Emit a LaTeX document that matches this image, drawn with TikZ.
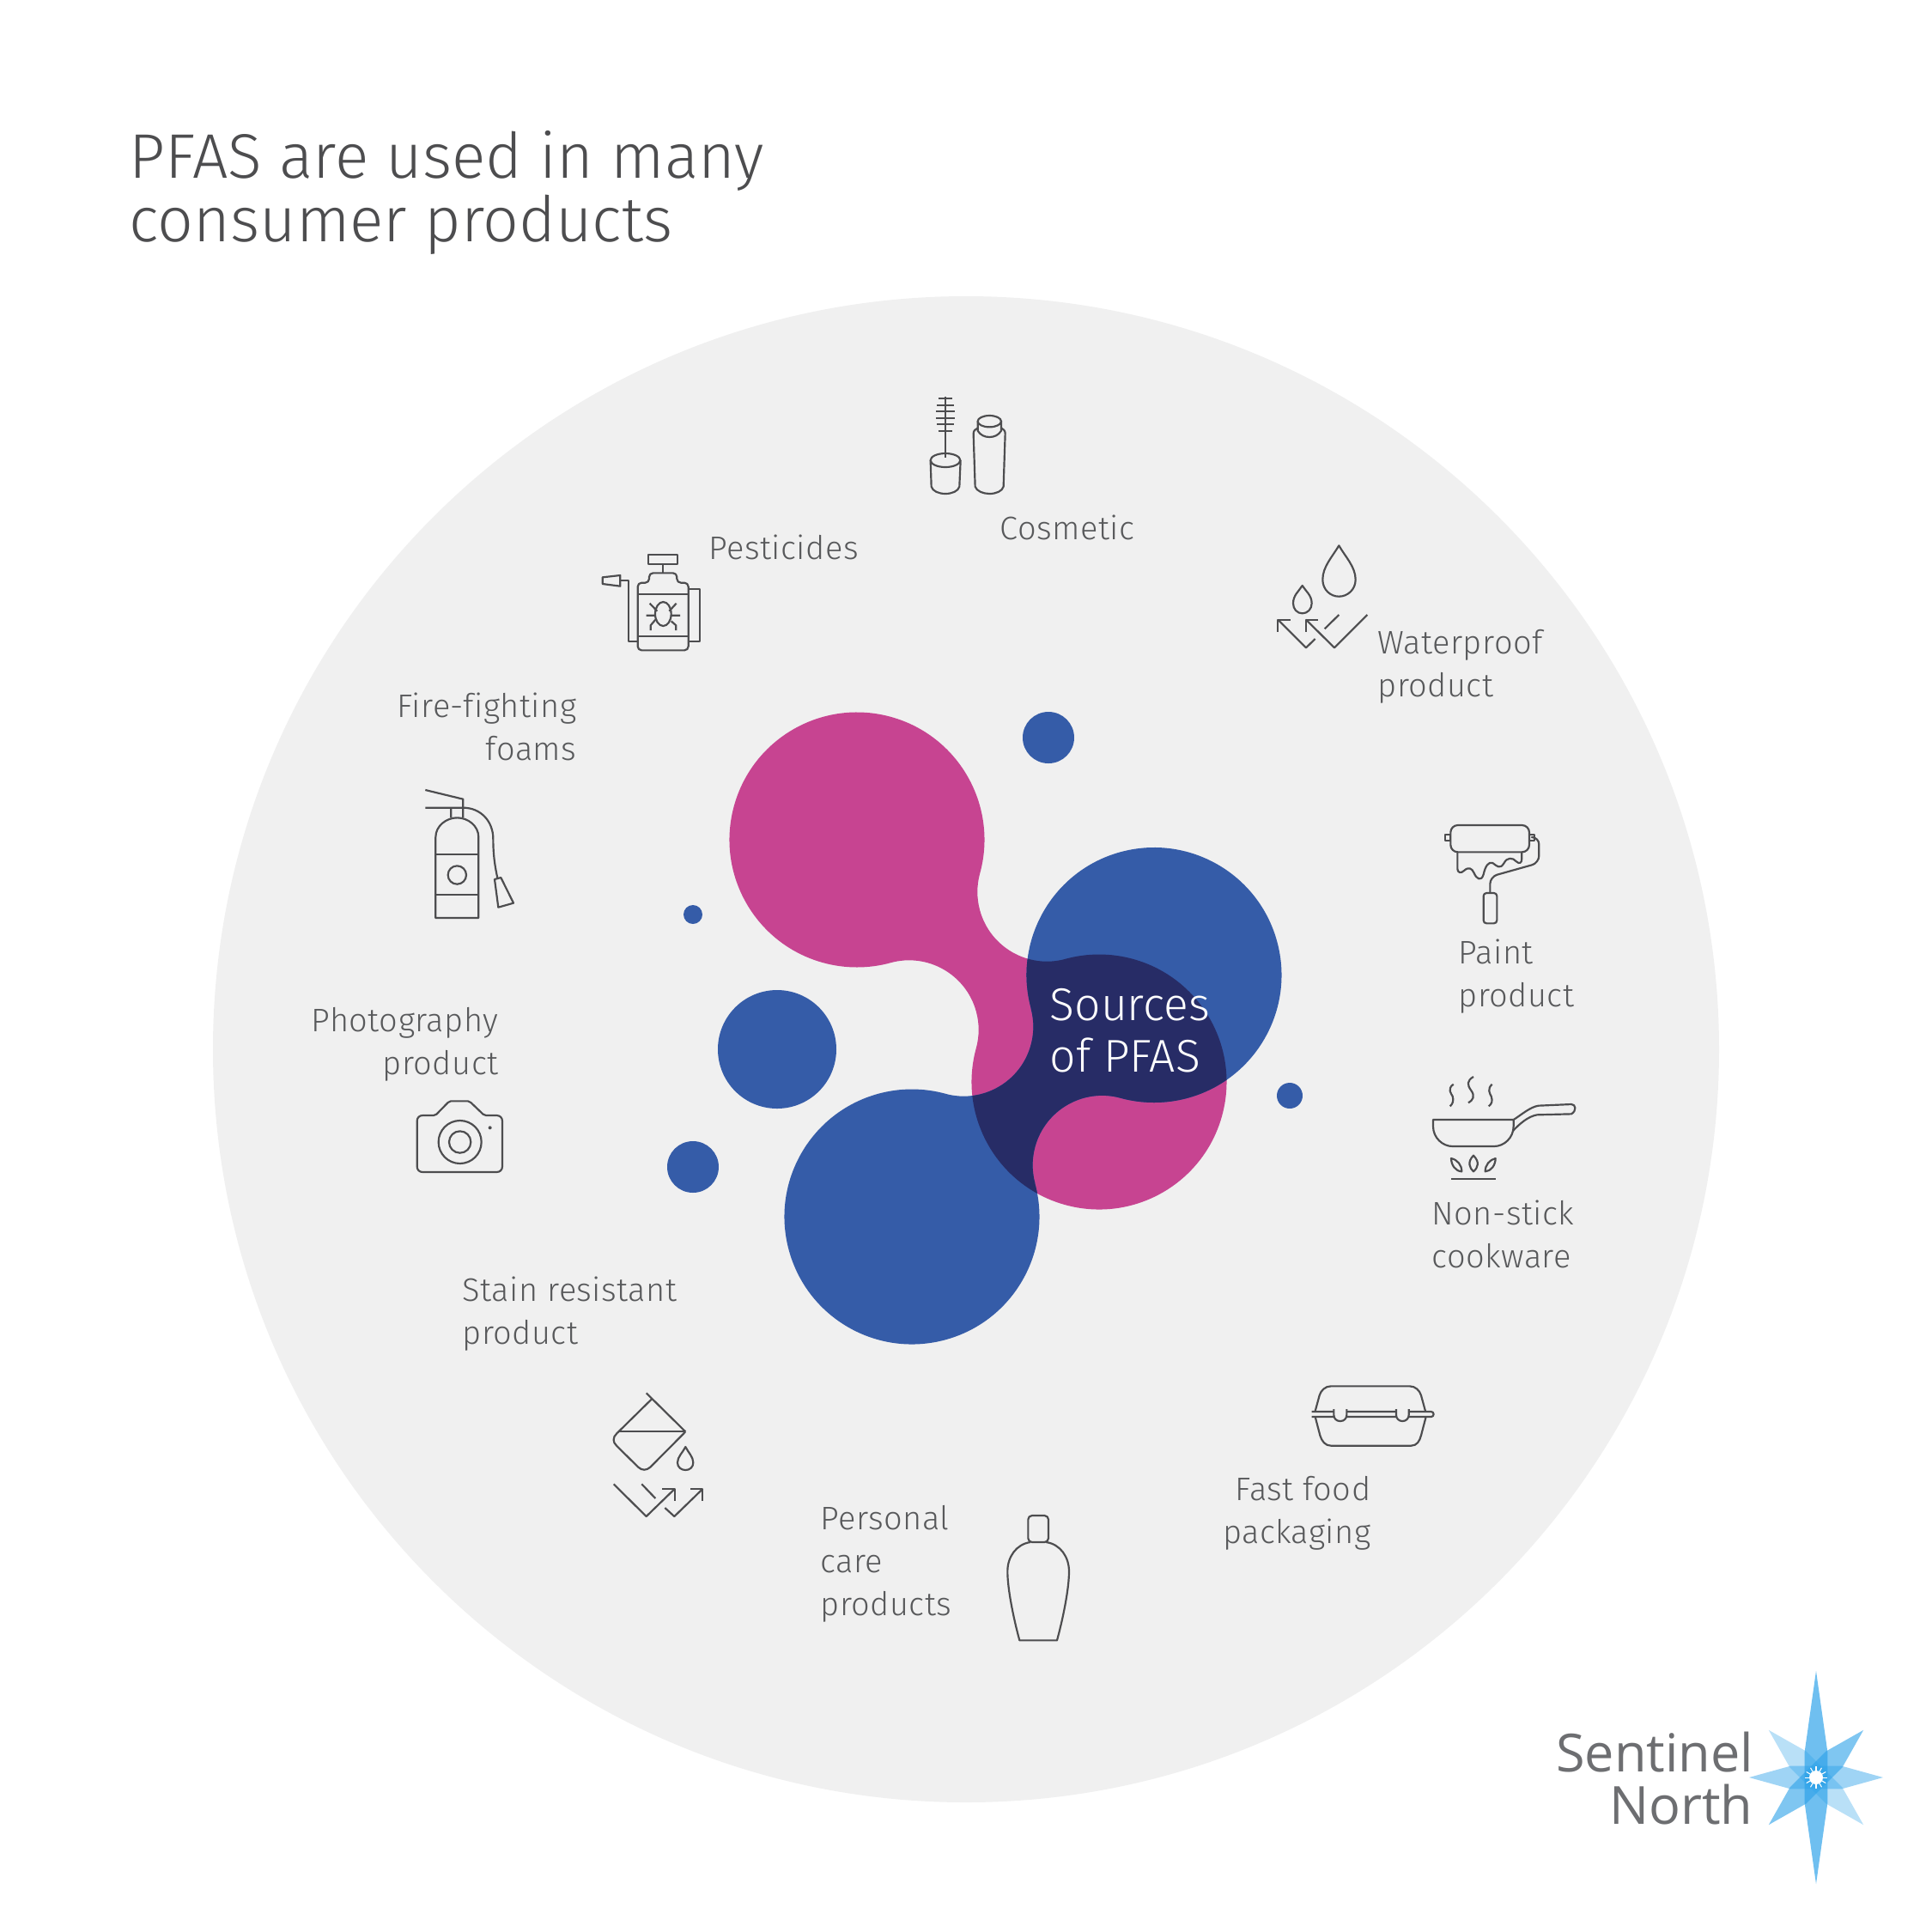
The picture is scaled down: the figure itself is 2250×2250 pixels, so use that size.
\documentclass[tikz,border=0pt]{standalone}
\usepackage{fontspec}
\usetikzlibrary{calc}
\setmainfont{Fira Sans}
\newfontfamily\lightf{Fira Sans Light}
\newfontfamily\labf[LetterSpace=1.2,Ligatures=NoCommon]{Fira Sans Light}
\newfontfamily\logof{Open Sans}
\definecolor{pinkc}{HTML}{C74491}
\definecolor{bluec}{HTML}{355CA8}
\definecolor{darkc}{HTML}{272C66}
\definecolor{discc}{HTML}{F0F0F0}
\definecolor{inkc}{HTML}{4D4D4F}
\definecolor{labc}{HTML}{58595B}
\definecolor{logoc}{HTML}{6D6E71}
\definecolor{starc}{HTML}{2BA1E9}
\newcommand\labL[1]{\begin{tabular}[t]{@{}l@{}}#1\end{tabular}}
\newcommand\labR[1]{\begin{tabular}[t]{@{}r@{}}#1\end{tabular}}
\def\pinkblob{($(998,978)+(15.34:148.5)$) arc[start angle=15.34,end angle=-285.34,radius=148.5]
 -- ($(1058.7,1199.3)+(-105.34:81)$) arc[start angle=-105.34,end angle=15.34,radius=81]
 -- ($(1280,1260)+(195.34:148.5)$) arc[start angle=195.34,end angle=-105.34,radius=148.5]
 -- ($(1219.3,1038.7)+(74.66:81)$) arc[start angle=74.66,end angle=195.34,radius=81] -- cycle}
\def\blueblob{($(1344,1135.5)+(164.81:148.5)$) arc[start angle=164.81,end angle=465.26,radius=148.5]
 -- ($(1283.6,1356.85)+(-74.74:81)$) arc[start angle=-74.74,end angle=-195.19,radius=81]
 -- ($(1062,1417)+(-15.19:148.5)$) arc[start angle=-15.19,end angle=285.26,radius=148.5]
 -- ($(1122.4,1195.65)+(105.26:81)$) arc[start angle=105.26,end angle=-15.19,radius=81] -- cycle}
\tikzset{
  icon/.style={draw=inkc,line width=0.62pt,line join=round},
  lab/.style={inner sep=0pt,text=labc,font=\labf\fontsize{10.8}{14.25}\selectfont},
  labl/.style={lab,anchor=base west},
  labr/.style={lab,anchor=base east},
  titletext/.style={inner sep=0pt,anchor=base west,text=inkc,font=\lightf\fontsize{20.85}{21.2}\selectfont},
  logotext/.style={inner sep=0pt,anchor=base east,text=logoc,font=\logof\fontsize{17.4}{17.4}\selectfont},
  centertext/.style={inner sep=0pt,anchor=base west,text=white,font=\lightf\fontsize{15.2}{17.2}\selectfont},
}
\newcommand\starray[3]{\begin{scope}[shift={(2115,2070)},rotate=#1]
 \fill[starc,fill opacity=#3] (0,-#2)--(13.3,-30)--(13.3,30)--(0,#2)--(-13.3,30)--(-13.3,-30)--cycle;
\end{scope}}
\begin{document}
\begin{tikzpicture}[x=0.01cm,y=0.01cm,yscale=-1]
\useasboundingbox (0,0) rectangle (2250,2250);
\fill[white] (0,0) rectangle (2250,2250);
\fill[discc] (1125,1222) circle[radius=877];
% title
\node[titletext] (title1) at (150,207) {PFAS are used in many};
\node[titletext] (title2) at (150,281) {consumer products};
% blobs
\fill[pinkc] \pinkblob;
\fill[bluec] \blueblob;
\begin{scope}
 \clip \pinkblob;
 \fill[darkc] \blueblob;
\end{scope}
\fill[bluec] (1221,859) circle[radius=30];
\fill[bluec] (905,1222) circle[radius=69];
\fill[bluec] (1502,1276) circle[radius=15];
\fill[bluec] (807,1065) circle[radius=11];
\fill[bluec] (807,1359) circle[radius=30];
\node[centertext] (src) at (1222,1188) {\labL{Sources\\of PFAS}};
% labels
\node[labl] (cosmetic) at (1164,628) {Cosmetic};
\node[labl] (pesticides) at (825,651) {Pesticides};
\node[labl] (waterproof) at (1604,761) {\labL{Waterproof\\product}};
\node[labl] (paint) at (1698,1122) {\labL{Paint\\product}};
\node[labl] (nonstick) at (1667,1426) {\labL{Non-stick\\cookware}};
\node[labr] (fastfood) at (1597,1747) {\labR{Fast food\\packaging}};
\node[labl] (personal) at (955,1781) {\labL{Personal\\care\\products}};
\node[labl] (stain) at (538,1515) {\labL{Stain resistant\\product}};
\node[labr] (photo) at (581,1201) {\labR{Photography\\product}};
\node[labr] (fire) at (672,835) {\labR{Fire-fighting\\foams}};
% cosmetic + pesticide icons
\begin{scope}[shift={(680,440)},scale=0.33333]
 \draw[icon] (1263,65)--(1263,280);
 \draw[icon] (1238,72)--(1288,72) (1233,95)--(1293,95) (1231,118)--(1296,118) (1231,140)--(1296,140) (1233,162)--(1293,162) (1238,185)--(1288,185);
 \draw[icon] (1263,288) ellipse[x radius=52,y radius=24];
 \draw[icon] (1211,288)--(1214,380) .. controls (1218,396) and (1240,405) .. (1263,405) .. controls (1286,405) and (1308,396) .. (1312,380)--(1316,288);
 \draw[icon] (1377,175) .. controls (1368,180) and (1361,184) .. (1361,195)--(1367,380) .. controls (1372,396) and (1395,405) .. (1417,405) .. controls (1440,405) and (1462,396) .. (1466,380)--(1472,195) .. controls (1472,184) and (1466,180) .. (1458,175);
 \draw[icon] (1417,152) ellipse[x radius=41,y radius=20];
 \draw[icon] (1376,152)--(1376,185) .. controls (1385,200) and (1400,207) .. (1417,207) .. controls (1434,207) and (1449,200) .. (1458,185)--(1458,152);
 \draw[icon] (225,618) rectangle (328,650);
 \draw[icon] (276,650)--(276,682);
 \draw[icon,rounded corners=1.3pt] (188,952)--(188,716)--(228,716)--(228,682)--(325,682)--(325,716)--(365,716)--(365,952)--cycle;
 \draw[icon] (188,755)--(365,755) (188,902)--(365,902);
 \draw[icon] (365,738)--(405,738)--(405,920)--(365,920);
 \draw[icon] (188,920)--(157,920)--(157,708)--(127,708);
 \draw[icon] (127,690)--(127,728)--(65,720)--(65,697)--cycle;
 \draw[icon] (277,825) ellipse[x radius=28,y radius=42];
 \draw[icon] (218,830)--(250,830) (305,830)--(336,830) (230,788)--(256,815) (323,788)--(298,815);
 \draw[icon] (250,845)--(233,865)--(233,882) (305,850)--(322,865)--(322,882);
\end{scope}
% waterproof + paint roller
\begin{scope}[shift={(1460,620)},scale=0.33333]
 \draw[icon] (298,46) .. controls (275,85) and (241,120) .. (241,165) .. controls (241,200) and (268,224) .. (298,224) .. controls (328,224) and (356,200) .. (356,165) .. controls (356,120) and (320,85) .. (298,46) -- cycle;
 \draw[icon] (170,186) .. controls (158,205) and (138,220) .. (138,248) .. controls (138,268) and (152,283) .. (170,283) .. controls (188,283) and (203,268) .. (203,248) .. controls (203,220) and (182,205) .. (170,186) -- cycle;
 \draw[icon] (215,372)--(183,403)--(85,305);
 \draw[icon] (85,347)--(85,305)--(128,305);
 \draw[icon] (397,288)--(282,403)--(183,305);
 \draw[icon] (183,347)--(183,305)--(226,305);
 \draw[icon] (298,288)--(248,337);
 \draw[icon,rounded corners=2.4pt] (688,1023) rectangle (963,1117);
 \draw[icon] (670,1055) rectangle (688,1078);
 \draw[icon] (963,1055) rectangle (981,1078);
 \draw[icon,rounded corners=2.4pt] (981,1065)--(997,1065)--(997,1155)--(826,1203)--(826,1260);
 \draw[icon,rounded corners=1pt] (803,1260) rectangle (850,1366);
 \draw[icon] (712,1117)--(712,1175) .. controls (712,1190) and (725,1192) .. (735,1182) .. controls (750,1168) and (762,1172) .. (770,1190) .. controls (778,1210) and (795,1222) .. (803,1195) .. controls (810,1165) and (820,1150) .. (835,1155) .. controls (850,1165) and (860,1180) .. (875,1155) .. controls (885,1135) and (905,1135) .. (918,1150) .. controls (928,1160) and (937,1155) .. (937,1140)--(937,1117);
\end{scope}
% pan
\begin{scope}[shift={(1640,1240)},scale=0.33333]
 \draw[icon] (368,192)--(87,192)--(87,215) .. controls (87,255) and (120,285) .. (155,285)--(300,285) .. controls (335,285) and (368,255) .. (368,215)--(368,192);
 \draw[icon] (368,192) .. controls (395,175) and (425,148) .. (455,143)--(570,138) .. controls (585,138) and (590,160) .. (570,172)--(450,175) .. controls (420,180) and (390,205) .. (365,232);
 \draw[icon] (158,68) .. controls (135,85) and (150,100) .. (155,110) .. controls (160,125) and (155,138) .. (146,145);
 \draw[icon] (228,42) .. controls (205,55) and (205,70) .. (220,90) .. controls (235,110) and (225,125) .. (210,133);
 \draw[icon] (293,68) .. controls (275,85) and (285,100) .. (290,110) .. controls (296,125) and (292,138) .. (281,145);
 \draw[icon] (228,317) .. controls (205,340) and (215,362) .. (228,373) .. controls (245,358) and (250,340) .. (228,317) -- cycle;
 \draw[icon] (150,327) .. controls (150,350) and (165,372) .. (187,373) .. controls (187,350) and (172,332) .. (150,327) -- cycle;
 \draw[icon] (305,327) .. controls (305,350) and (290,372) .. (269,373) .. controls (269,350) and (284,332) .. (305,327) -- cycle;
 \draw[icon] (150,398)--(305,398);
\end{scope}
% food box
\begin{scope}[shift={(1500,1600)},scale=0.33333]
 \draw[icon] (95,130)--(110,75) .. controls (115,58) and (130,43) .. (150,43)--(425,43) .. controls (445,43) and (460,58) .. (465,75)--(480,130);
 \draw[icon] (95,150)--(112,215) .. controls (118,235) and (130,251) .. (150,251)--(430,251) .. controls (450,251) and (460,235) .. (465,215)--(482,150);
 \draw[icon] (83,132)--(160,132) (205,132)--(378,132) (422,132)--(500,132) arc[start angle=-90,end angle=90,radius=9]--(422,150) (378,150)--(205,150) (160,150)--(83,150);
 \draw[icon,rounded corners=2pt] (160,123)--(160,165)--(205,165)--(205,123);
 \draw[icon,rounded corners=2pt] (378,123)--(378,165)--(422,165)--(422,123);
\end{scope}
% bottle
\begin{scope}[shift={(1140,1750)},scale=0.33333]
 \draw[icon,rounded corners=1.3pt] (172,45) rectangle (243,138);
 \draw[icon] (180,138) .. controls (130,145) and (100,190) .. (100,240) .. controls (100,300) and (120,400) .. (142,481)--(273,481) .. controls (295,400) and (315,300) .. (315,240) .. controls (315,190) and (285,145) .. (235,138);
\end{scope}
% stain
\begin{scope}[shift={(700,1600)},scale=0.33333]
 \draw[icon] (158,67)--(295,202);
 \draw[icon] (178,87)--(55,208) .. controls (40,222) and (40,238) .. (55,252)--(130,326) .. controls (143,338) and (158,338) .. (172,326)--(295,202);
 \draw[icon] (60,202)--(295,202);
 \draw[icon] (295,255) .. controls (285,275) and (267,290) .. (267,310) .. controls (267,326) and (280,336) .. (295,336) .. controls (310,336) and (322,326) .. (322,310) .. controls (322,290) and (305,275) .. (295,255) -- cycle;
 \draw[icon] (44,385)--(158,498)--(257,402);
 \draw[icon] (214,402)--(257,402)--(257,445);
 \draw[icon] (142,385)--(190,435);
 \draw[icon] (223,468)--(256,498)--(355,402);
 \draw[icon] (312,402)--(355,402)--(355,445);
\end{scope}
% extinguisher
\begin{scope}[shift={(470,910)},scale=0.33333]
 \draw[icon] (112,477)--(112,195) .. controls (112,155) and (150,127) .. (187,127) .. controls (225,127) and (262,155) .. (262,195)--(262,477)--cycle;
 \draw[icon] (112,256)--(262,256) (112,397)--(262,397);
 \draw[icon] (187,327) circle[radius=32];
 \draw[icon] (166,127)--(166,92) (208,127)--(208,62)--(76,30);
 \draw[icon] (76,92)--(208,92) .. controls (270,92) and (313,140) .. (313,200) .. controls (313,260) and (320,300) .. (328,337);
 \draw[icon] (318,342)--(340,336)--(384,425)--(331,440)--cycle;
\end{scope}
% camera
\begin{scope}[shift={(470,1270)},scale=0.33333]
 \draw[icon] (47,265)--(47,107) .. controls (47,95) and (55,87) .. (67,87)--(105,87) .. controls (110,87) and (113,85) .. (115,83)--(155,42) .. controls (158,39) and (161,37) .. (165,37)--(225,37) .. controls (229,37) and (232,39) .. (235,42)--(278,83) .. controls (280,85) and (283,87) .. (288,87)--(325,87) .. controls (337,87) and (345,95) .. (345,107)--(345,265) .. controls (345,277) and (337,285) .. (325,285)--(67,285) .. controls (55,285) and (47,277) .. (47,265)--cycle;
 \draw[icon] (197,180) circle[radius=75];
 \draw[icon] (197,180) circle[radius=38];
 \fill[inkc] (302,130) circle[radius=6];
\end{scope}
% logo
\node[logotext] (sentinel) at (2043,2063) {Sentinel};
\node[logotext] (north) at (2042,2124) {North};
\starray{90}{78}{0.45}
\starray{-45}{78}{0.33}
\starray{45}{78}{0.6}
\starray{0}{124}{0.68}
\fill[white] (2115,2070) circle[radius=8];
\foreach \a in {0,30,...,330}{\draw[white,line width=0.3pt] (2115,2070) -- ++(\a:13);}
\end{tikzpicture}
\end{document}
